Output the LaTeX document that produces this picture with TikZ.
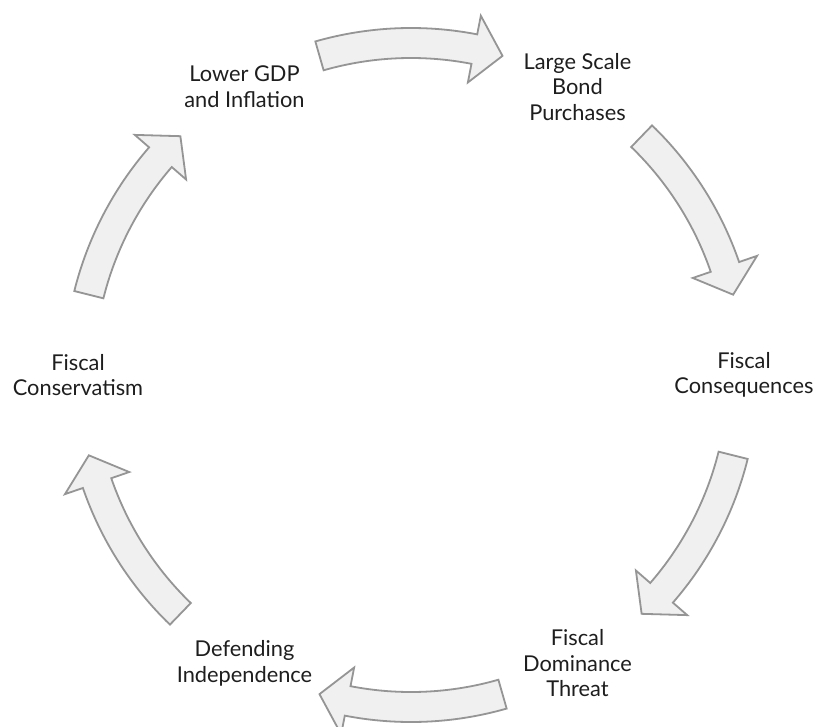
\documentclass[tikz,border=0pt]{standalone}
\usepackage{fontspec}
\setmainfont{Lato}
\usetikzlibrary{calc}
\definecolor{arrfill}{HTML}{F0F0F0}
\definecolor{arrline}{HTML}{959595}
\definecolor{txt}{HTML}{1E1E1E}
\tikzset{
  arrowshape/.style={draw=arrline, fill=arrfill, line width=1.8pt, line join=miter},
  lbl/.style={align=center, text=txt, font=\fontsize{21.8}{25.5}\selectfont, inner sep=0pt}
}
\newcommand\cycarrow[1]{%
  \pgfmathsetmacro\aS{#1+16}%
  \pgfmathsetmacro\aE{#1-16}%
  \pgfmathsetmacro\aH{#1-11}%
  \draw[arrowshape] ($(O)+(\aS:347pt)$) arc[start angle=\aS, end angle=\aH, radius=347pt]
    -- ($(O)+(\aH:366pt)$) -- ($(O)+(\aE:332pt)$) -- ($(O)+(\aH:298pt)$)
    -- ($(O)+(\aH:317pt)$) arc[start angle=\aH, end angle=\aS, radius=317pt] -- cycle;
}
\begin{document}
\begin{tikzpicture}[x=1pt,y=1pt]
\fill[white] (0,0) rectangle (817,-726);
\useasboundingbox (0,0) rectangle (817,-726);
\coordinate (O) at (411,-375);
\foreach \c in {90,30,-30,-90,-150,150} {\cycarrow{\c}}
\node[lbl] (n1) at ($(O)+(60:333pt)$) {Large Scale\\Bond\\Purchases};
\node[lbl] (n2) at ($(O)+(0:333pt)$) {Fiscal\\Consequences};
\node[lbl] (n3) at ($(O)+(-60:333pt)$) {Fiscal\\Dominance\\Threat};
\node[lbl] (n4) at ($(O)+(-120:333pt)$) {Defending\\Independence};
\node[lbl] (n5) at ($(O)+(180:333pt)$) {Fiscal\\Conservatism};
\node[lbl] (n6) at ($(O)+(120:333pt)$) {Lower GDP\\and Inflation};
\end{tikzpicture}
\end{document}
